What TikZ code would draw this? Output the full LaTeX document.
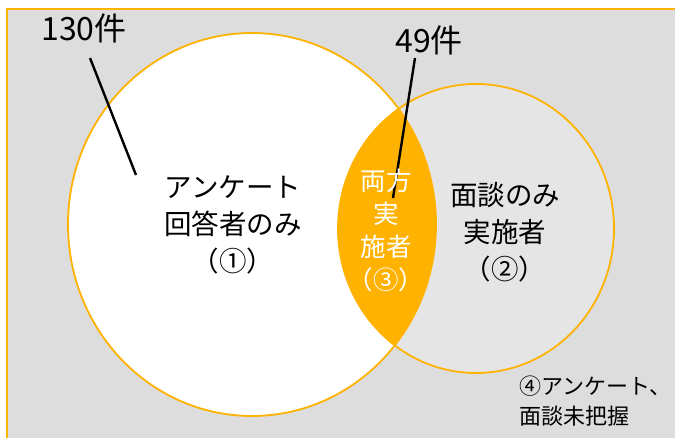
\documentclass[tikz,border=0pt]{standalone}
\usepackage{fontspec}
\setmainfont{Noto Sans CJK JP}
\definecolor{gold}{HTML}{FFB300}
\definecolor{bggray}{HTML}{DDDDDD}
\definecolor{lightgray2}{HTML}{E5E5E5}
\begin{document}
\begin{tikzpicture}[x=1pt,y=-1pt,
  outline/.style={draw=gold,line width=1.8pt},
  leader/.style={draw=black,line width=2.4pt},
  lbl/.style={inner sep=0pt,align=center,text=black},
  big/.style={font=\fontsize{27.5}{37}\selectfont},
  num/.style={font=\fontsize{32}{36}\selectfont},
  small/.style={font=\fontsize{22}{30}\selectfont}]
\useasboundingbox (0,0) rectangle (675,438);
% background
\path[fill=bggray,draw=gold,line width=1.8pt] (7,9) rectangle (690,460);
% circles
\path[fill=lightgray2] (476,228.5) ellipse [x radius=138,y radius=144.5];
\path[fill=white] (252,224.5) ellipse [x radius=184,y radius=191.5];
\begin{scope}
  \clip (476,228.5) ellipse [x radius=138,y radius=144.5];
  \fill[gold] (252,224.5) ellipse [x radius=184,y radius=191.5];
\end{scope}
\draw[outline] (252,224.5) ellipse [x radius=184,y radius=191.5];
\draw[outline] (476,228.5) ellipse [x radius=138,y radius=144.5];
% labels
\node[lbl,num] (n130) at (84,28) {130件};
\node[lbl,num] (n49) at (429,40) {49件};
\coordinate (e130) at (136,175);
\coordinate (s130) at (90,58);
\coordinate (e49) at (393,198);
\coordinate (s49) at (415,58);
\draw[leader] (s130) -- (e130);
\draw[leader] (s49) -- (e49);
\node[lbl,big] (only1) at (233,225) {アンケート\\回答者のみ\\（①）};
\node[lbl,big] (only2) at (505,232) {面談のみ\\実施者\\（②）};
\node[lbl,text=white,font=\fontsize{25.5}{33}\selectfont] (both) at (386,230) {両方\\実\\施者\\（③）};
\node[lbl,small,align=left,anchor=north west] (none) at (519,376) {④アンケート、\\面談未把握};
\end{tikzpicture}
\end{document}
